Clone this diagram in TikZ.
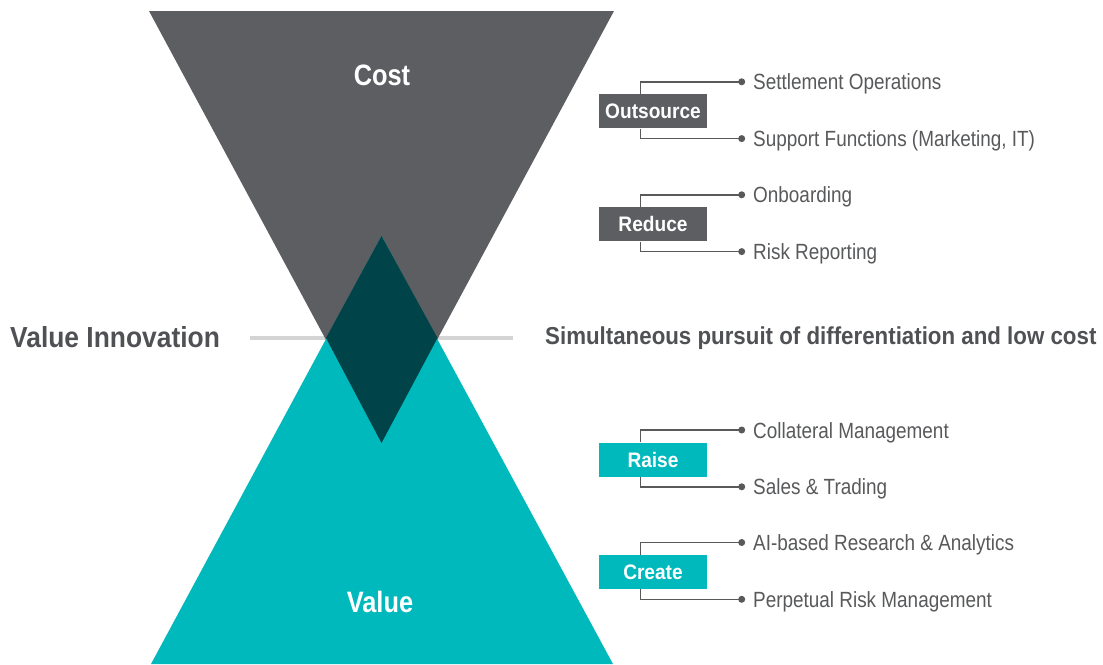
\documentclass[tikz,border=0pt]{standalone}
\usepackage{fontspec}
\setmainfont[FakeStretch=0.86]{Liberation Sans}
\newfontfamily\widebold[FakeStretch=0.91]{Liberation Sans}
\definecolor{costgray}{HTML}{5D5E61}
\definecolor{valueteal}{HTML}{00B9BC}
\definecolor{overlap}{HTML}{00444A}
\definecolor{textgray}{HTML}{58595B}
\definecolor{headgray}{HTML}{505154}
\definecolor{axisgray}{HTML}{D4D4D4}
\tikzset{
  bigtitle/.style={font=\bfseries\fontsize{29.5}{29.5}\selectfont, text=white, inner sep=0pt},
  headline/.style={text=headgray, inner sep=0pt, anchor=base west},
  tagbox/.style={fill=#1, text=white, font=\widebold\bfseries\fontsize{21}{21}\selectfont,
    minimum width=108pt, minimum height=34pt, inner sep=0pt},
  itemtext/.style={font=\fontsize{22}{22}\selectfont, text=textgray, inner sep=0pt, anchor=base west},
  bracket/.style={draw=textgray, line width=1.5pt},
  bullet/.style={circle, fill=textgray, minimum size=7pt, inner sep=0pt},
}
\begin{document}
\begin{tikzpicture}[x=1pt,y=-1pt]
  \useasboundingbox (0,0) rectangle (1103,664);
  % axis line behind the shapes
  \draw[axisgray, line width=4.7pt] (250,338) -- (513,338);
  % cost funnel and value pyramid
  \fill[costgray] (149,11) -- (614,11) -- (381.5,443) -- cycle;
  \fill[valueteal] (151,664) -- (613,664) -- (381.5,236) -- cycle;
  % overlap of the two
  \fill[overlap] (381.5,236) -- (437.5,338) -- (381.5,443) -- (326,338) -- cycle;
  \node[bigtitle] (cost) at (382,75.5) {Cost};
  \node[bigtitle] (value) at (380,602) {Value};
  \node[headline, font=\widebold\bfseries\fontsize{29}{29}\selectfont] (vi) at (10,347.5) {Value Innovation};
  \node[headline, font=\widebold\bfseries\fontsize{24.5}{24.5}\selectfont] (sp) at (545,344) {Simultaneous pursuit of differentiation and low cost};
  % action groups: tag box with two bracketed items
  \foreach \name/\tag/\col/\yc/\one/\two in {
      out/Outsource/costgray/111.3/Settlement Operations/{Support Functions (Marketing, IT)},
      red/Reduce/costgray/224.3/Onboarding/Risk Reporting,
      rai/Raise/valueteal/459.5/Collateral Management/Sales \& Trading,
      cre/Create/valueteal/572/AI-based Research \& Analytics/Perpetual Risk Management} {
    \node[tagbox=\col] (\name) at (653,\yc) {\tag};
    \coordinate (\name a) at (640.7,\yc-29.5);
    \coordinate (\name b) at (640.7,\yc+27.3);
    \node[bullet] (\name p) at (741.7,\yc-29.5) {};
    \node[bullet] (\name q) at (741.7,\yc+27.3) {};
    \draw[bracket] (\name.north -| \name a) -- (\name a) -- (\name p.center);
    \draw[bracket] (\name.south -| \name b) -- (\name b) -- (\name q.center);
    \node[itemtext] (\name t1) at (753,\yc-21.5) {\one};
    \node[itemtext] (\name t2) at (753,\yc+35.3) {\two};
  }
\end{tikzpicture}
\end{document}
